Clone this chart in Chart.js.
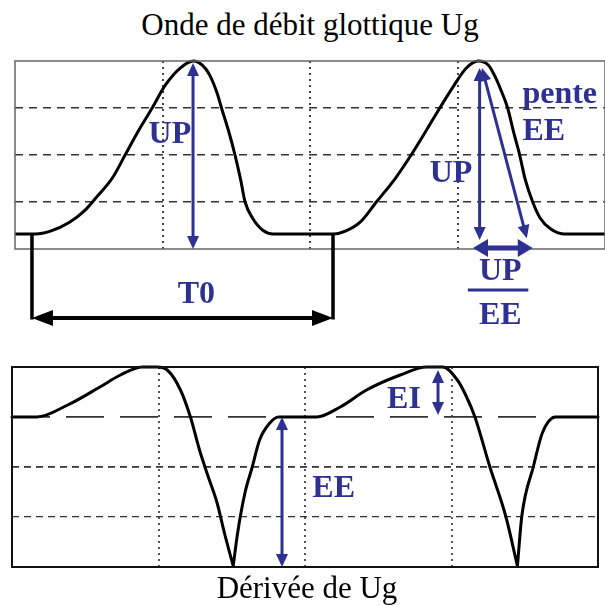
<!DOCTYPE html>
<html>
<head>
<meta charset="utf-8">
<script src="https://cdn.jsdelivr.net/npm/chart.js@4.4.1/dist/chart.umd.min.js"></script>
<style>
  body { margin: 0; background: #fff; width: 605px; height: 606px; position: relative; overflow: hidden; }
  .title { position: absolute; font-family: "Liberation Serif", "Times New Roman", serif; font-size: 31px; line-height: 31px; text-align: center; color: #000; white-space: nowrap; }
  #ugChart { position: absolute; left: 0; top: 0; }
  #dugChart { position: absolute; left: 0; top: 340px; }
</style>
</head>
<body>
<div class="title" style="left:0; top:9px; width:620px;">Onde de débit glottique Ug</div>
<canvas id="ugChart" width="605" height="340"></canvas>
<canvas id="dugChart" width="605" height="266"></canvas>
<div class="title" style="left:0; top:572px; width:614px;">Dérivée de Ug</div>

<script>
// glottal flow Ug (time and amplitude in grid divisions)
const ugTime = [0, 0.14, 0.24, 0.37, 0.47, 0.56, 0.66, 0.75, 0.84, 0.93, 1.02, 1.12, 1.21, 1.27, 1.32, 1.37, 1.40, 1.45, 1.49, 1.53, 1.56, 1.61, 1.68, 1.75,
  2.16, 2.24, 2.34, 2.45, 2.58, 2.69, 2.79, 2.88, 2.97, 3.06, 3.14, 3.21, 3.25, 3.30, 3.34, 3.38, 3.42, 3.46, 3.51, 3.56, 3.63, 3.72, 4.0];
const ugValues = [0.32, 0.32, 0.38, 0.57, 0.81, 1.13, 1.51, 2.02, 2.53, 3.0, 3.49, 3.85, 4.0, 3.91, 3.70, 3.32, 3.0, 2.49, 2.02, 1.47, 1.0, 0.66, 0.40, 0.32,
  0.32, 0.38, 0.57, 1.0, 1.51, 2.02, 2.53, 3.0, 3.45, 3.85, 4.0, 3.91, 3.70, 3.34, 3.0, 2.49, 2.02, 1.47, 1.0, 0.66, 0.43, 0.32, 0.32];

// derivative of Ug (null splits the curve at each sharp minimum)
const dugTime = [0, 0.17, 0.38, 0.60, 0.74, 0.89, 0.99, 1.06, 1.15, 1.22, 1.28, 1.34, 1.40, 1.45, 1.51, 1.51,
  1.51, 1.54, 1.59, 1.64, 1.69, 1.76, 1.82,
  2.08, 2.24, 2.42, 2.65, 2.83, 2.94, 3.04, 3.10, 3.16, 3.26, 3.37, 3.45, 3.45,
  3.45, 3.48, 3.56, 3.62, 3.71, 4.0];
const dugValues = [0, 0, 0.24, 0.6, 0.84, 1.0, 1.0, 0.94, 0.54, -0.02, -0.66, -1.2, -1.72, -2.32, -2.98, null,
  -2.98, -2.32, -1.52, -1.0, -0.46, -0.12, 0,
  0, 0.2, 0.54, 0.84, 1.0, 1.0, 0.74, 0.42, 0, -0.98, -1.98, -2.98, null,
  -2.98, -1.98, -0.98, -0.32, 0, 0];

const navy = "#2e3192";
const labelFont = 'bold 32px "Liberation Serif", "Times New Roman", serif';

function head(ctx, x, y, a, len, half) {
  const c = Math.cos(a), s = Math.sin(a);
  ctx.beginPath();
  ctx.moveTo(x, y);
  ctx.lineTo(x - len * c + half * s, y - len * s - half * c);
  ctx.lineTo(x - len * c - half * s, y - len * s + half * c);
  ctx.closePath();
  ctx.fill();
}

function arrow(ctx, x1, y1, x2, y2, o) {
  const a = Math.atan2(y2 - y1, x2 - x1);
  const c = Math.cos(a), s = Math.sin(a);
  let sx = x1, sy = y1, ex = x2, ey = y2;
  if (o.start) { sx += c * o.len * 0.7; sy += s * o.len * 0.7; }
  if (o.end) { ex -= c * o.len * 0.7; ey -= s * o.len * 0.7; }
  ctx.save();
  ctx.strokeStyle = o.color;
  ctx.fillStyle = o.color;
  ctx.lineWidth = o.width;
  ctx.beginPath();
  ctx.moveTo(sx, sy);
  ctx.lineTo(ex, ey);
  ctx.stroke();
  if (o.end) head(ctx, x2, y2, a, o.len, o.half);
  if (o.start) head(ctx, x1, y1, a + Math.PI, o.len, o.half);
  ctx.restore();
}

function label(ctx, text, x, y, align) {
  ctx.save();
  ctx.font = labelFont;
  ctx.fillStyle = navy;
  ctx.textAlign = align || "center";
  ctx.textBaseline = "alphabetic";
  ctx.fillText(text, x, y);
  ctx.restore();
}

function frame(chart, color, width) {
  const ctx = chart.ctx, a = chart.chartArea;
  ctx.save();
  ctx.strokeStyle = color;
  ctx.lineWidth = width;
  ctx.strokeRect(a.left, a.top, a.right - a.left, a.bottom - a.top);
  ctx.restore();
}

function pairs(xs, ys) {
  return xs.map((x, i) => ({ x: x, y: ys[i] }));
}

function hideEdges(ctx) {
  const v = ctx.tick ? ctx.tick.value : null;
  return v === 0 || v === 4;
}

const ugNotes = {
  id: "ugNotes",
  afterDatasetsDraw(chart) {
    const ctx = chart.ctx;
    const X = v => chart.scales.x.getPixelForValue(v);
    const Y = v => chart.scales.y.getPixelForValue(v);
    frame(chart, "#666", 1.5);

    const blue = { color: navy, width: 3, len: 13, half: 6, start: true, end: true };
    // UP on first pulse
    arrow(ctx, X(1.207), Y(3.96), X(1.207), Y(0), blue);
    label(ctx, "UP", X(1.05), Y(2.26));

    // T0 bracket
    ctx.save();
    ctx.strokeStyle = "#000";
    ctx.lineWidth = 3.5;
    ctx.beginPath();
    ctx.moveTo(X(0.115), Y(0.32)); ctx.lineTo(X(0.115), Y(-1.5));
    ctx.moveTo(X(2.156), Y(0.32)); ctx.lineTo(X(2.156), Y(-1.5));
    ctx.stroke();
    ctx.restore();
    arrow(ctx, X(0.115), Y(-1.47), X(2.156), Y(-1.47), { color: "#000", width: 4, len: 21, half: 8, start: true, end: true });
    label(ctx, "T0", X(1.23), Y(-1.15));

    // second pulse: UP, slope EE, UP/EE
    arrow(ctx, X(3.15), Y(3.85), X(3.15), Y(0.19), blue);
    arrow(ctx, X(3.166), Y(3.85), X(3.47), Y(0.23), blue);
    arrow(ctx, X(3.105), Y(0.02), X(3.51), Y(0.02), { color: navy, width: 5, len: 15, half: 9, start: true, end: true });
    label(ctx, "UP", X(2.956), Y(1.43));
    label(ctx, "pente", X(3.44), Y(3.11), "left");
    label(ctx, "EE", X(3.44), Y(2.32), "left");
    label(ctx, "UP", X(3.29), Y(-0.66));
    ctx.save();
    ctx.strokeStyle = navy;
    ctx.lineWidth = 3;
    ctx.beginPath();
    ctx.moveTo(X(3.07), Y(-0.87)); ctx.lineTo(X(3.48), Y(-0.87));
    ctx.stroke();
    ctx.restore();
    label(ctx, "EE", X(3.29), Y(-1.6));
  }
};

const dugNotes = {
  id: "dugNotes",
  afterDatasetsDraw(chart) {
    const ctx = chart.ctx;
    const X = v => chart.scales.x.getPixelForValue(v);
    const Y = v => chart.scales.y.getPixelForValue(v);
    frame(chart, "#111", 2);
    const blue = { color: navy, width: 3, len: 13, half: 6, start: true, end: true };
    arrow(ctx, X(1.843), Y(0), X(1.843), Y(-3), blue);
    label(ctx, "EE", X(2.05), Y(-1.6), "left");
    arrow(ctx, X(2.908), Y(0.94), X(2.908), Y(0.04), blue);
    label(ctx, "EI", X(2.56), Y(0.18), "left");
  }
};

const flatScale = {
  afterFitX(s) { s.height = 0; },
  afterFitY(s) { s.width = 0; }
};

new Chart(document.getElementById("ugChart"), {
  type: "line",
  data: {
    datasets: [{
      data: pairs(ugTime, ugValues),
      borderColor: "#000",
      borderWidth: 3,
      pointRadius: 0,
      cubicInterpolationMode: "monotone",
      clip: false
    }]
  },
  options: {
    responsive: false,
    animation: false,
    layout: { padding: { left: 15, top: 61, right: 0, bottom: 91 } },
    plugins: { legend: { display: false }, tooltip: { enabled: false } },
    scales: {
      x: {
        type: "linear", min: 0, max: 4,
        ticks: { display: false, stepSize: 1 },
        afterFit: flatScale.afterFitX,
        grid: { drawTicks: false, lineWidth: 2, color: c => hideEdges(c) ? "rgba(0,0,0,0)" : "#444" },
        border: { display: false, dash: [2, 4] }
      },
      y: {
        min: 0, max: 4,
        ticks: { display: false, stepSize: 1 },
        afterFit: flatScale.afterFitY,
        grid: { drawTicks: false, lineWidth: 1.5, color: c => hideEdges(c) ? "rgba(0,0,0,0)" : "#333" },
        border: { display: false, dash: [8, 6] }
      }
    }
  },
  plugins: [ugNotes]
});

new Chart(document.getElementById("dugChart"), {
  type: "line",
  data: {
    datasets: [{
      data: pairs(dugTime, dugValues),
      borderColor: "#000",
      borderWidth: 3,
      borderCapStyle: "round",
      pointRadius: 0,
      cubicInterpolationMode: "monotone",
      spanGaps: false,
      clip: false
    }]
  },
  options: {
    responsive: false,
    animation: false,
    layout: { padding: { left: 12, top: 27, right: 7, bottom: 39 } },
    plugins: { legend: { display: false }, tooltip: { enabled: false } },
    scales: {
      x: {
        type: "linear", min: 0, max: 4,
        ticks: { display: false, stepSize: 1 },
        afterFit: flatScale.afterFitX,
        grid: { drawTicks: false, lineWidth: 2, color: c => hideEdges(c) ? "rgba(0,0,0,0)" : "#555" },
        border: { display: false, dash: [2, 4] }
      },
      y: {
        min: -3, max: 1,
        ticks: { display: false, stepSize: 1 },
        afterFit: flatScale.afterFitY,
        grid: {
          drawTicks: false,
          lineWidth: c => (c.tick && c.tick.value === -2) ? 1.2 : 1.8,
          color: c => (c.tick && (c.tick.value === -3 || c.tick.value === 1)) ? "rgba(0,0,0,0)" : "#333"
        },
        border: { display: false, dash: c => (c.tick && c.tick.value === 0) ? [38, 16] : [7, 5] }
      }
    }
  },
  plugins: [dugNotes]
});
</script>
</body>
</html>
